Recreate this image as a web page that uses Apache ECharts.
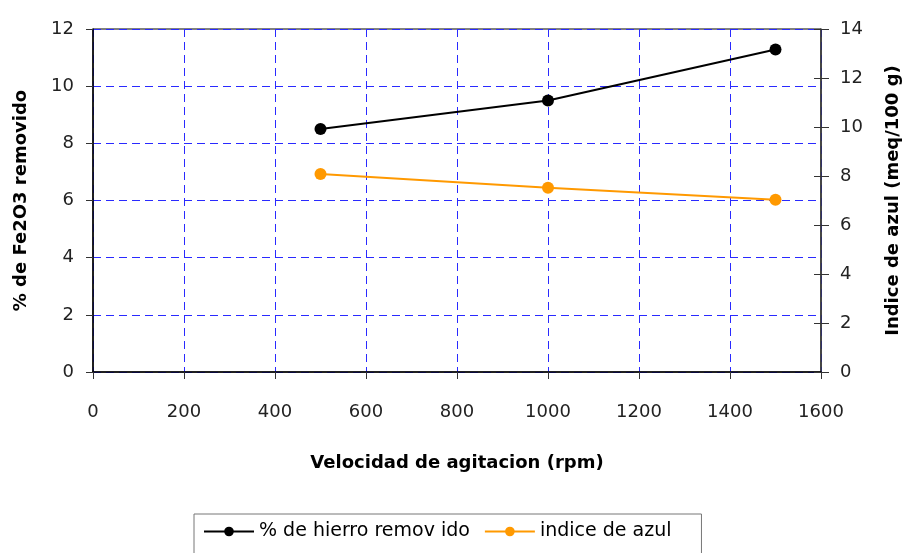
<!DOCTYPE html>
<html>
<head>
<meta charset="utf-8">
<script src="https://cdn.jsdelivr.net/npm/echarts@6/dist/echarts.min.js"></script>
<style>
  html, body { margin: 0; padding: 0; background: #fff; }
  #chart { width: 902px; height: 553px; }
</style>
</head>
<body>
<div id="chart"></div>
<script>
// Agitation speed (rpm) and measured responses
const velocidad = [500, 1000, 1500];
const hierroRemovido = [8.5, 9.5, 11.28];   // % Fe2O3 removido (left axis)
const indiceAzul = [8.08, 7.52, 7.03];      // meq/100 g (right axis)

const xTicks = { min: 0, max: 1600, interval: 200 };
const leftTicks = { min: 0, max: 12, interval: 2 };
const rightTicks = { min: 0, max: 14, interval: 2 };

const FONT = '"DejaVu Sans", sans-serif';
const gridLine = { show: true, lineStyle: { color: '#2a2aff', type: [8, 5], width: 1 } };
const tickLabel = { fontSize: 18, color: '#222', fontFamily: FONT };
const titleText = { fontFamily: FONT, fontSize: 18, fontWeight: 'bold', color: '#000' };

const chart = echarts.init(document.getElementById('chart'));
chart.setOption({
  animation: false,
  backgroundColor: '#ffffff',
  textStyle: { fontFamily: FONT },
  grid: {
    left: 93, right: 81, top: 29, bottom: 181,
    outerBoundsMode: 'none',
    show: true, borderColor: '#000', borderWidth: 1, backgroundColor: 'transparent'
  },
  legend: {
    left: 194, top: 514,
    padding: [8, 30, 20, 9],
    borderColor: '#777', borderWidth: 1,
    itemWidth: 50, itemHeight: 12, itemGap: 14,
    textStyle: { fontFamily: FONT, fontSize: 19, color: '#000' },
    data: ['% de hierro remov ido', 'indice de azul']
  },
  xAxis: {
    type: 'value',
    min: xTicks.min, max: xTicks.max, interval: xTicks.interval,
    name: 'Velocidad de agitacion (rpm)',
    nameLocation: 'middle', nameGap: 82,
    nameTextStyle: titleText,
    axisLine: { show: true, lineStyle: { color: '#000', width: 1.5 } },
    axisTick: { show: true, length: 7, lineStyle: { color: '#333' } },
    axisLabel: Object.assign({ margin: 31, formatter: v => String(v) }, tickLabel),
    splitLine: gridLine
  },
  yAxis: [
    {
      type: 'value', position: 'left',
      min: leftTicks.min, max: leftTicks.max, interval: leftTicks.interval,
      name: '% de Fe2O3 removido',
      nameLocation: 'middle', nameGap: 63, nameRotate: 90,
      nameTextStyle: titleText,
      axisLine: { show: true, lineStyle: { color: '#000', width: 1.5 } },
      axisTick: { show: true, length: 7, lineStyle: { color: '#333' } },
      axisLabel: Object.assign({ margin: 19 }, tickLabel),
      splitLine: gridLine
    },
    {
      type: 'value', position: 'right',
      min: rightTicks.min, max: rightTicks.max, interval: rightTicks.interval,
      name: 'Indice de azul (meq/100 g)',
      nameLocation: 'middle', nameGap: 63, nameRotate: 90,
      nameTextStyle: titleText,
      axisLine: { show: true, lineStyle: { color: '#333', width: 1.5 } },
      axisTick: { show: true, length: 8, lineStyle: { color: '#333' } },
      axisLabel: Object.assign({ margin: 19 }, tickLabel),
      splitLine: { show: false }
    },
    {
      // inner half of the right-hand cross ticks
      type: 'value', position: 'right',
      min: rightTicks.min, max: rightTicks.max, interval: rightTicks.interval,
      axisLine: { show: false },
      axisTick: { show: true, inside: true, length: 7, lineStyle: { color: '#333' } },
      axisLabel: { show: false },
      splitLine: { show: false }
    }
  ],
  series: [
    {
      name: '% de hierro remov ido',
      type: 'line', yAxisIndex: 0,
      data: velocidad.map((v, i) => [v, hierroRemovido[i]]),
      symbol: 'circle', symbolSize: 12,
      itemStyle: { color: '#000' },
      lineStyle: { color: '#000', width: 2 }
    },
    {
      name: 'indice de azul',
      type: 'line', yAxisIndex: 1,
      data: velocidad.map((v, i) => [v, indiceAzul[i]]),
      symbol: 'circle', symbolSize: 12,
      itemStyle: { color: '#ff9900' },
      lineStyle: { color: '#ff9900', width: 2 }
    }
  ]
});
</script>
</body>
</html>
